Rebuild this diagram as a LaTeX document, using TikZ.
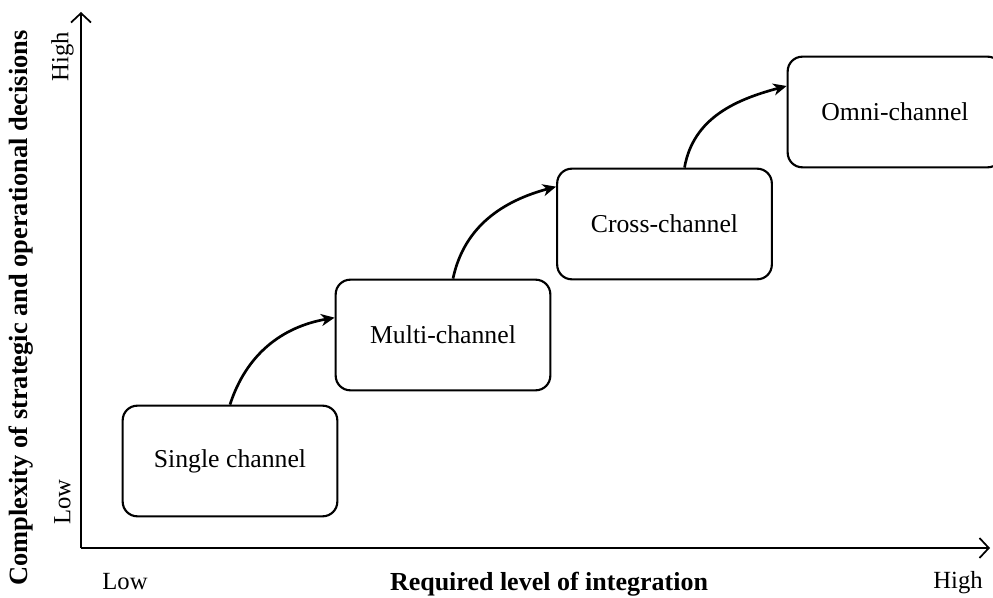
\documentclass[tikz,border=0pt]{standalone}
\usepackage{fontspec}
\setmainfont{Liberation Serif}
\usetikzlibrary{arrows.meta, positioning}
\tikzstyle{block} = [draw, rectangle, rounded corners=11pt, line width=1.6pt, minimum width=161pt, minimum height=83pt, font=\fontsize{19.3}{23}\selectfont]
\tikzstyle{flow} = [line width=2pt, -{Stealth[length=10pt, width=9pt, inset=3pt]}]
\tikzstyle{axis} = [line width=1.5pt, -{Straight Barb[length=7pt, width=15pt, line width=1.3pt]}]
\tikzstyle{lbl} = [font=\fontsize{18.5}{22}\selectfont, inner sep=0pt]

\begin{document}
\begin{tikzpicture}[>=latex, x=0.75pt, y=0.75pt]
    \useasboundingbox (0,0) rectangle (993,597);
    % axes
    \coordinate (orig) at (81,49);
    \coordinate (ytop) at (81,585);
    \coordinate (xend) at (990,49);
    \draw[axis] (orig) -- (ytop);
    \draw[axis] (orig) -- (xend);
    \node[lbl, rotate=90] (yhigh) at (62.5,540) {High};
    \node[lbl, rotate=90] (ylow) at (62.5,95) {Low};
    \node[lbl, anchor=base] (xlow) at (125,8) {Low};
    \node[lbl, anchor=base] (xhigh) at (958,9) {High};
    \node[lbl, anchor=base, font=\fontsize{19.5}{23}\selectfont\bfseries] (xtitle) at (549,7) {Required level of integration};
    \node[lbl, rotate=90, font=\fontsize{19.8}{23}\selectfont\bfseries] (ytitle) at (21,289) {Complexity of strategic and operational decisions};
    % channel stages
    \node[block] (single) at (230,136) {Single channel};
    \node[block] (multi) at (443,262) {Multi-channel};
    \node[block] (cross) at (664.5,373) {Cross-channel};
    \node[block] (omni) at (895,485) {Omni-channel};
    \draw[flow] (single.north) to[out=72, in=190] ([yshift=13pt]multi.west);
    \draw[flow] ([xshift=7.5pt]multi.north) to[out=78, in=195] ([yshift=28pt]cross.west);
    \draw[flow] ([xshift=15pt]cross.north) to[out=80, in=195] ([yshift=19.5pt]omni.west);
\end{tikzpicture}
\end{document}
